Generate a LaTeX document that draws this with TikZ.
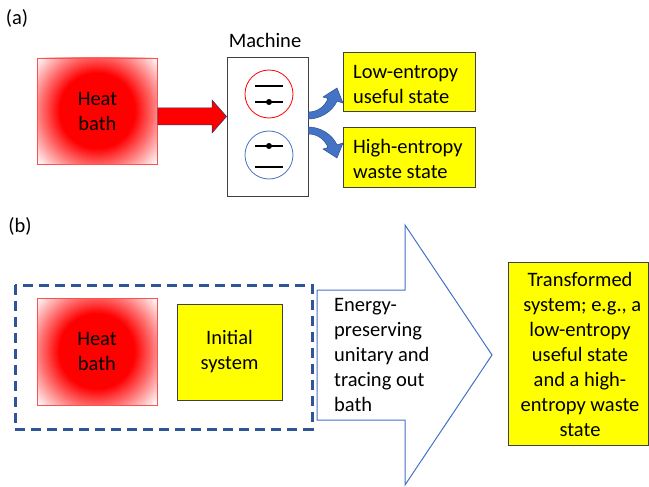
\documentclass[tikz,border=0pt]{standalone}
\usepackage{fontspec}
\setmainfont{Carlito}
\usetikzlibrary{calc}
\definecolor{heatedge}{RGB}{255,80,80}
\definecolor{ybox}{RGB}{255,255,0}
\definecolor{yedge}{RGB}{64,64,64}
\definecolor{dashblue}{RGB}{47,85,151}
\definecolor{abl}{RGB}{68,114,196}
\definecolor{abldark}{RGB}{47,82,143}
\definecolor{navy}{RGB}{32,56,100}
\begin{document}
\begin{tikzpicture}[x=1pt,y=-1pt,
  every node/.style={font=\fontsize{20.5}{25}\selectfont, inner sep=0pt},
  heatbox/.style={draw=heatedge, line width=0.8pt, align=center,
    path picture={
      \foreach \r in {85,84,...,37} {
        \pgfmathsetmacro\p{max(0,min(100,100*(80-\r)/42))}
        \fill[red!\p!white] (path picture bounding box.center) circle (\r pt);
      }}},
  ybox/.style={draw=yedge, fill=ybox, line width=0.9pt},
  machbox/.style={draw=yedge, line width=0.9pt},
  lvl/.style={line width=2.8pt, black},
  curvarrow/.style={fill=abl, draw=abldark, line width=0.5pt},
]
\useasboundingbox (0,0) rectangle (649,487);

% ---------- (a) ----------
\node (la) at (17,18) {(a)};
\node[heatbox, minimum width=120pt, minimum height=106pt] (hbA) at (97.5,111) {Heat\\bath};

\node[machbox, minimum width=81pt, minimum height=139pt] (mach) at (267.5,126.5) {};
\node (machlbl) at (265,40) {Machine};

\node[circle, draw=red, line width=0.8pt, minimum size=48pt] (c1) at (269,94) {};
\node[circle, draw=abl, line width=0.8pt, minimum size=48pt] (c2) at (269,155) {};
\draw[lvl] ($(c1)+(-14,-8)$) -- ($(c1)+(14,-8)$);
\draw[lvl] ($(c1)+(-14,8)$) -- ($(c1)+(14,8)$);
\fill ($(c1)+(0,8)$) circle (3pt);
\draw[lvl] ($(c2)+(-14,-9)$) -- ($(c2)+(14,-9)$);
\draw[lvl] ($(c2)+(-14,12)$) -- ($(c2)+(14,12)$);
\fill ($(c2)+(0,-9)$) circle (3pt);

% red block arrow from heat bath to machine
\fill[red, draw=navy, line width=0.5pt] (hbA.east |- 0,108) -- (212,108) -- (212,100) -- (mach.west |- 0,116.5) -- (212,133) -- (212,125) -- (hbA.east |- 0,125) -- cycle;

\node[ybox, minimum width=132pt, minimum height=59pt, anchor=north west] (low) at (343,52) {};
\node[anchor=west, align=left] (lowt) at ($(low.west)+(10,2.5)$) {Low-entropy\\useful state};
\node[ybox, minimum width=132pt, minimum height=60pt, anchor=north west] (high) at (343,127) {};
\node[anchor=west, align=left] (hight) at ($(high.west)+(10,1.5)$) {High-entropy\\waste state};

% curved arrows
\fill[curvarrow] (mach.east |- 0,112) .. controls (318,112) and (325,106) .. (328,98.5) -- (323,97) -- (337,88) -- (343,103) -- (337,101.2) .. controls (332,112) and (320,119) .. (mach.east |- 0,119) -- cycle;
\fill[curvarrow] (mach.east |- 0,134) .. controls (318,134) and (325,140) .. (328,147.5) -- (323,149) -- (337,158) -- (343,143) -- (337,144.8) .. controls (332,134) and (320,127) .. (mach.east |- 0,127) -- cycle;

% ---------- (b) ----------
\node (lb) at (20,226) {(b)};
\draw[dashblue, line width=3pt, dash pattern=on 10pt off 6pt] (15,285) rectangle (312,429);
\node[heatbox, minimum width=120pt, minimum height=107pt] (hbB) at (97,351.5) {Heat\\bath};
\node[ybox, minimum width=105pt, minimum height=96pt, align=center] (init) at (229.5,352) {Initial\\system};

% big outlined arrow
\draw[abl, line width=1pt] (317,290) -- (405,290) -- (405,225) -- (492,355) -- (405,485) -- (405,420) -- (317,420) -- cycle;
\node[anchor=west, align=left] (proc) at (334,355) {Energy-\\preserving\\unitary and\\tracing out\\bath};

\node[ybox, minimum width=140pt, minimum height=183pt, anchor=north west] (trans) at (508,262) {};
\node[align=center] (transt) at (580,354.5) {Transformed\\\ system; e.g., a\\low-entropy\\useful state\\and a high-\\entropy waste\\state};
\end{tikzpicture}
\end{document}
